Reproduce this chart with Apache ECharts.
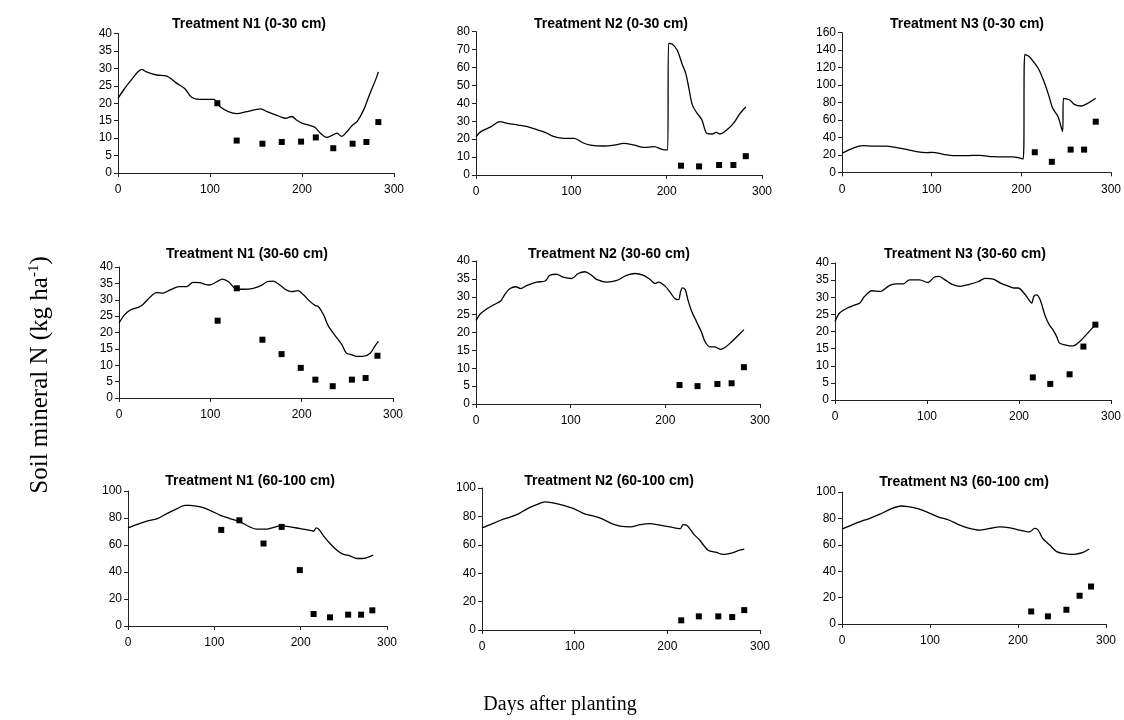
<!DOCTYPE html>
<html><head><meta charset="utf-8">
<script src="https://cdn.jsdelivr.net/npm/echarts@6/dist/echarts.min.js"></script>
<style>html,body{margin:0;padding:0;background:#fff}#c{width:1124px;height:720px}</style>
</head><body><div id="c"></div>
<script>
// ---------- DATA ----------
const xTicks = [0, 100, 200, 300];
const obsDaysN1 = [108,129,157,178,199,215,234,255,270,283];
const obsDaysN23 = [215,234,255,270,283];

const simDays_N1_0_30 = [0,6,13,26,31,42,53,64,73,80,89,104,111,120,129,140,155,162,176,182,189,194,200,209,214,220,227,232,238,243,249,254,260,267,274,280,283];
const sim_N1_0_30 = [21.4,23.8,26.2,29.7,29,28.1,27.8,25.7,24.1,21.7,21.1,21.1,19,17.6,17,17.6,18.4,17.6,16.2,15.7,16.2,15.2,14.3,13.6,13.1,11.4,10.2,10.7,11.4,10.5,11.9,13.5,14.8,18.1,22.9,26.7,29];
const obs_N1_0_30 = [20,9.3,8.4,8.9,9,10.2,7.1,8.4,8.9,14.6];

const simDays_N2_0_30 = [0,5,16,25,33,44,54,65,73,82,92,103,112,120,134,145,155,166,176,187,195,201,202,206,211,216,220,223,227,232,237,242,248,252,256,263,270,277,283];
const sim_N2_0_30 = [21.4,24.2,27,29.8,28.8,27.9,27,25.1,23.6,21.4,20.5,20.5,18,16.7,16.2,16.7,17.7,16.7,15.4,15.8,14.3,14,73.5,73,69.8,62.3,56.7,49.3,39,34.4,30.7,23.3,22.9,23.8,22.9,25.1,28.8,34.4,38];
const obs_N2_0_30 = [5.2,4.8,5.6,5.6,10.5];

const simDays_N3_0_30 = [0,12,23,35,49,61,72,83,94,101,113,124,139,153,168,183,191,202,204,209,215,220,226,231,235,241,246,247,254,259,267,274,283];
const sim_N3_0_30 = [22,27.5,30.5,30.1,30.1,28.3,26.3,23.7,22.5,22.9,20.6,19.1,19.1,19.5,17.9,17.6,17.6,15.3,135,132.5,124.8,117,102,86.7,73.3,63.8,46.6,84.8,82.9,77.9,76,79,84.8];
const obs_N3_0_30 = [23,12,26,26,58];

const simDays_N1_30_60 = [0,6,12,21,26,34,41,48,56,66,74,81,88,99,107,113,120,127,136,147,156,162,169,176,183,189,196,202,209,215,218,224,229,237,244,249,255,260,267,275,280,284];
const sim_N1_30_60 = [22.9,25.4,26.8,27.7,28.5,30.8,32.2,32,33,34,34,35.3,35.2,34.5,35.5,36.3,35.5,33.5,33.2,33.5,34.4,35.5,35.7,34.5,33,32.5,32.8,31.5,29.5,28.2,28,25.4,22.1,18.9,16.3,13.7,13.2,12.7,12.7,13.7,15.8,17.3];
const obs_N1_30_60 = [23.6,33.5,17.8,13.4,9.2,5.6,3.6,5.6,6.1,12.9];

const simDays_N2_30_60 = [0,5,12,19,26,31,36,42,47,54,64,73,78,85,92,101,108,115,122,128,138,149,159,168,177,184,189,193,200,205,210,214,216,218,221,224,228,233,238,242,247,252,258,263,270,279,283];
const sim_N2_30_60 = [23.4,25.3,26.7,27.8,28.8,30.9,32.3,32.8,32.3,33.2,34.1,34.4,36,36.3,35.5,35.1,36.5,37,36,34.8,34.1,34.6,36,36.5,36,34.8,33.7,34.1,32.9,31.3,29.5,29.2,31.3,32.5,32,29,25.8,23,20.2,17.4,16,16,15.3,15.8,17.4,19.7,20.8];
const obs_N2_30_60 = [5.3,5.0,5.6,5.8,10.3];

const simDays_N3_30_60 = [0,5,13,22,27,32,40,49,59,66,74,81,92,101,108,113,120,128,136,145,156,163,172,180,189,194,199,207,212,214,216,219,223,228,233,237,241,244,250,255,259,266,273,282];
const sim_N3_30_60 = [22.9,25.4,26.8,27.8,28.3,30.2,31.9,31.7,33.4,33.9,33.9,35.1,35.1,34.3,35.9,36.1,35,33.7,33.2,33.7,34.6,35.5,35.3,34.1,33.2,32.7,32.7,30.7,28.8,28.3,30.2,30.7,29.3,24.9,21.9,20.5,18.5,16.6,16.1,15.8,15.8,17.1,19,21.7];
const obs_N3_30_60 = [6.6,4.7,7.5,15.6,22];

const simDays_N1_60_100 = [0,10,22,34,45,57,66,72,84,95,107,118,130,141,149,161,168,176,188,199,211,215,218,221,226,234,242,249,257,265,271,276,284];
const sim_N1_60_100 = [72.7,75.1,77.6,79.6,83.3,87,89.4,89.4,88.2,85.7,82,79.6,77.1,73.4,71.7,71.7,72.9,74.1,73.4,72.2,70.9,70.2,72.7,71.7,67.2,61.1,56.2,53.2,52,50,50,50.5,52.5];
const obs_N1_60_100 = [71.2,78.3,61.1,73.4,41.4,8.9,6.4,8.4,8.4,11.6];

const simDays_N2_60_100 = [0,9,20,31,40,49,59,68,75,88,99,110,120,129,140,149,160,171,181,192,203,214,217,221,228,235,244,253,260,268,278,283];
const sim_N2_60_100 = [71.9,74.2,77.3,79.6,82,85.5,88.3,90.2,89.7,87.8,85.5,82,80.3,78.5,74.9,73.1,72.6,74.2,74.9,73.8,72.6,71.4,74.2,73.8,67.9,63.2,56.2,54.6,53.2,53.9,56.2,57];
const obs_N2_60_100 = [6.8,9.6,9.6,9.1,14];

const simDays_N3_60_100 = [0,9,20,31,43,54,67,75,86,98,109,122,134,145,156,168,179,191,202,213,219,223,228,236,244,251,261,266,274,281];
const sim_N3_60_100 = [71.9,74.4,77.4,79.9,83.2,86.7,89.4,88.9,87.4,84.4,81.2,78.6,74.9,72.4,71.1,72.4,73.6,72.9,71.1,69.8,72.4,71.1,64.8,59.8,54.8,53.5,52.8,53,54.3,56.8];
const obs_N3_60_100 = [9.5,5.8,10.8,21.4,28.4];

const titles = ['Treatment N1 (0-30 cm)','Treatment N2 (0-30 cm)','Treatment N3 (0-30 cm)',
  'Treatment N1 (30-60 cm)','Treatment N2 (30-60 cm)','Treatment N3 (30-60 cm)',
  'Treatment N1 (60-100 cm)','Treatment N2 (60-100 cm)','Treatment N3 (60-100 cm)'];
const yMaxes = [40,80,160,40,40,40,100,100,100];
const ySteps = [5,10,20,5,5,5,20,20,20];
const yTitle = 'Soil mineral N (kg ha';
const yTitleSup = '-1';
const xTitle = 'Days after planting';

// ---------- LAYOUT ----------
const grids = [
  [118,33.5,276,139.5],[476,31.7,286,143.3],[842,32.7,269,139.6],
  [119,267,274,131],[476,261,284,143],[835,263,278,137],
  [128,491,259,135],[482,488,278,142],[842,492,264,132]
];
const titlePos = [[249,17],[611,17],[967,17],[247,247],[609,247],[965,247],[250,474],[609,474],[964,475]];

const simDays = [simDays_N1_0_30,simDays_N2_0_30,simDays_N3_0_30,simDays_N1_30_60,simDays_N2_30_60,simDays_N3_30_60,simDays_N1_60_100,simDays_N2_60_100,simDays_N3_60_100];
const sims = [sim_N1_0_30,sim_N2_0_30,sim_N3_0_30,sim_N1_30_60,sim_N2_30_60,sim_N3_30_60,sim_N1_60_100,sim_N2_60_100,sim_N3_60_100];
const obsDays = [obsDaysN1,obsDaysN23,obsDaysN23,obsDaysN1,obsDaysN23,obsDaysN23,obsDaysN1,obsDaysN23,obsDaysN23];
const obss = [obs_N1_0_30,obs_N2_0_30,obs_N3_0_30,obs_N1_30_60,obs_N2_30_60,obs_N3_30_60,obs_N1_60_100,obs_N2_60_100,obs_N3_60_100];

const FONT = '"Liberation Sans", Arial, sans-serif';
const SERIF = '"Liberation Serif", "Times New Roman", serif';
const axisCol = '#222';

const option = {animation:false, backgroundColor:'#fff', title:[], grid:[], xAxis:[], yAxis:[], series:[]};
for (let i=0;i<9;i++){
  const g = grids[i];
  option.grid.push({left:g[0], top:g[1], width:g[2], height:g[3], containLabel:false});
  option.title.push({text:titles[i], left:titlePos[i][0], top:titlePos[i][1], textAlign:'center', padding:0,
    textStyle:{fontFamily:FONT, fontWeight:'bold', fontSize:14, color:'#000'}});
  option.xAxis.push({type:'value', gridIndex:i, min:xTicks[0], max:xTicks[xTicks.length-1], interval:100,
    axisLine:{show:true, lineStyle:{color:axisCol, width:1}},
    axisTick:{show:true, length:4, lineStyle:{color:axisCol}},
    axisLabel:{fontFamily:FONT, fontSize:12, color:'#000', margin:11},
    splitLine:{show:false}});
  option.yAxis.push({type:'value', gridIndex:i, min:0, max:yMaxes[i], interval:ySteps[i],
    axisLine:{show:true, onZero:false, lineStyle:{color:axisCol, width:1}},
    axisTick:{show:true, length:4, lineStyle:{color:axisCol}},
    axisLabel:{fontFamily:FONT, fontSize:12, color:'#000', margin:6},
    splitLine:{show:false}});
  option.series.push({type:'line', xAxisIndex:i, yAxisIndex:i, showSymbol:false, smooth:0.3,
    data: simDays[i].map((d,k)=>[d, sims[i][k]]),
    lineStyle:{color:'#000', width:1.3}, z:2});
  option.series.push({type:'scatter', xAxisIndex:i, yAxisIndex:i, symbol:'rect', symbolSize:6,
    data: obsDays[i].map((d,k)=>[d, obss[i][k]]),
    itemStyle:{color:'#000', opacity:1}, z:3});
}
option.graphic = [
  {type:'text', x:560, y:705, style:{text:xTitle, font:'20px '+SERIF, fill:'#000', textAlign:'center', textVerticalAlign:'middle'}},
  {type:'text', x:40, y:375, rotation:Math.PI/2,
   style:{text:'{a|'+yTitle+'}{s|'+yTitleSup+'}{a|)}', textAlign:'center', textVerticalAlign:'middle',
     rich:{a:{fontFamily:SERIF, fontSize:25, fill:'#000', color:'#000'}, s:{fontFamily:SERIF, fontSize:15, fill:'#000', color:'#000', verticalAlign:'top', padding:[0,0,12,0]}}}}
];
const chart = echarts.init(document.getElementById('c'), null, {renderer:'canvas'});
chart.setOption(option);
</script></body></html>
